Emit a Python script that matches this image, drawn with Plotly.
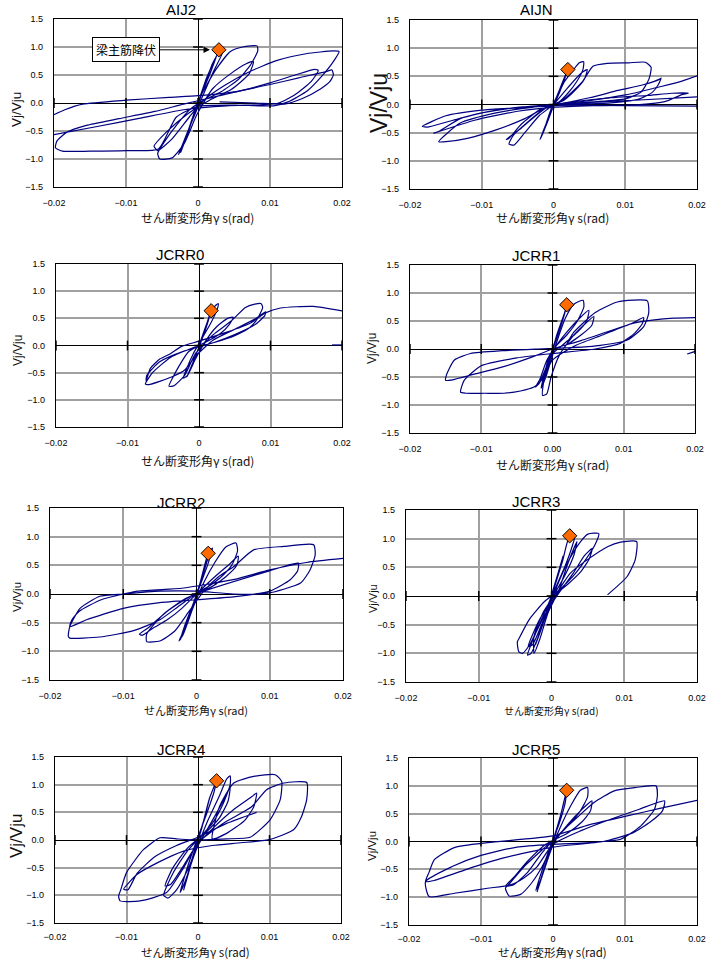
import plotly.graph_objects as go

# ---------------- data (shear strain gamma_s [rad], Vj/Vju) ----------------
x_ticks = [-0.02, -0.01, 0.0, 0.01, 0.02]
x_tick_text = ["−0.02", "−0.01", "0", "0.01", "0.02"]
x_tick_text_00 = ["−0.02", "−0.01", "0.00", "0.01", "0.02"]
y_ticks = [-1.5, -1.0, -0.5, 0.0, 0.5, 1.0, 1.5]
y_tick_text = ["−1.5", "−1.0", "−0.5", "0.0", "0.5", "1.0", "1.5"]

specimens = ["AIJ2", "AIJN", "JCRR0", "JCRR1", "JCRR2", "JCRR3", "JCRR4", "JCRR5"]

# beam main bar yield points (orange diamonds)
yield_gamma = [0.0029, 0.0020, 0.0017, 0.0020, 0.0016, 0.0025, 0.0026, 0.0019]
yield_ratio = [0.95, 0.62, 0.64, 0.79, 0.71, 1.05, 1.07, 0.92]

aij2_loop = [
    (0.0, 0.0), (0.0012, 0.45), (0.0026, 0.85), (0.0016, 0.5), (0.0, 0.02), (-0.0013, -0.5), (-0.0024, -0.88),
    (-0.0012, -0.45), (0.0004, 0.12), (0.002, 0.7), (0.0031, 0.94), (0.0036, 0.96), (0.0021, 0.55), (0.0004, 0.05),
    (-0.0014, -0.5), (-0.0027, -0.92), (-0.0016, -0.58), (0.0002, 0.08),
    (0.0025, 0.6), (0.0045, 0.92), (0.0062, 1.0), (0.0082, 1.02), (0.0083, 0.93), (0.0073, 0.68), (0.0056, 0.42),
    (0.0032, 0.2), (0.001, 0.06), (-0.001, -0.1), (-0.0029, -0.38), (-0.0046, -0.68), (-0.0056, -0.9), (-0.0053, -1.0),
    (-0.0036, -0.98), (-0.0019, -0.72), (-0.0002, -0.22), (0.002, 0.25), (0.0045, 0.52), (0.0067, 0.7), (0.0077, 0.74),
    (0.0071, 0.52), (0.0046, 0.24), (0.0016, 0.05), (-0.0015, -0.2), (-0.0044, -0.52), (-0.0061, -0.77),
    (-0.0056, -0.85), (-0.0036, -0.64), (-0.0012, -0.25), (0.0008, 0.05),
    (0.0035, 0.3), (0.007, 0.55), (0.011, 0.76), (0.015, 0.88), (0.0188, 0.93), (0.0196, 0.92), (0.0187, 0.72),
    (0.0172, 0.48), (0.0152, 0.22), (0.0125, 0.02), (0.0105, -0.05), (0.006, -0.04), (0.0, -0.06), (-0.003, -0.25),
    (-0.0055, -0.82), (-0.01, -0.85), (-0.015, -0.86), (-0.0188, -0.86), (-0.0198, -0.8), (-0.0196, -0.68),
    (-0.0182, -0.52), (-0.0155, -0.4), (-0.011, -0.28), (-0.006, -0.15), (-0.002, -0.02), (0.002, 0.1), (0.006, 0.22),
    (0.01, 0.36), (0.0135, 0.5), (0.0162, 0.6), (0.0167, 0.58), (0.0157, 0.38), (0.0135, 0.15), (0.0112, 0.0),
    (0.009, -0.03), (0.004, -0.05), (-0.002, -0.12), (-0.008, -0.27), (-0.014, -0.42), (-0.0207, -0.58),
    (None, None),
    (-0.0207, -0.25), (-0.0185, -0.12), (-0.016, -0.02), (-0.01, 0.05), (-0.004, 0.1), (0.0, 0.13), (0.005, 0.2),
    (0.01, 0.33), (0.014, 0.45), (0.0178, 0.56), (0.0186, 0.59), (0.0188, 0.5), (0.0183, 0.38), (0.017, 0.25),
    (0.0145, 0.08), (0.012, -0.02), (0.008, 0.0), (0.003, 0.02),
]

aijn_loop = [
    (0.0, 0.0), (0.0008, 0.25), (0.0017, 0.5), (0.0008, 0.2), (-0.0006, -0.2), (-0.0017, -0.58), (-0.0008, -0.3),
    (0.0005, 0.15), (0.0019, 0.6), (0.0012, 0.35), (-0.0004, -0.1), (-0.0015, -0.52), (-0.0019, -0.62),
    (-0.0009, -0.3), (0.0004, 0.1),
    (0.0015, 0.4), (0.0028, 0.62), (0.0036, 0.74), (0.0042, 0.76), (0.0041, 0.62), (0.0032, 0.4), (0.002, 0.2),
    (0.0008, 0.05), (-0.001, -0.05), (-0.0035, -0.3), (-0.0056, -0.55), (-0.0062, -0.7), (-0.0055, -0.72),
    (-0.004, -0.5), (-0.002, -0.2), (0.0, 0.0), (0.002, 0.3), (0.0038, 0.55), (0.0047, 0.62), (0.0043, 0.45),
    (0.003, 0.25), (0.0015, 0.08), (-0.0015, -0.1), (-0.0045, -0.42), (-0.0066, -0.62), (-0.0062, -0.6),
    (-0.0045, -0.35), (-0.002, -0.1), (0.001, 0.05),
    (0.004, 0.4), (0.0055, 0.68), (0.0075, 0.73), (0.0105, 0.74), (0.0128, 0.75), (0.0136, 0.66), (0.0133, 0.45),
    (0.0122, 0.22), (0.01, 0.1), (0.006, 0.05), (0.002, 0.02), (-0.004, -0.05), (-0.01, -0.1), (-0.015, -0.2),
    (-0.0183, -0.39), (-0.0175, -0.4), (-0.014, -0.28), (-0.01, -0.15), (-0.005, -0.05), (0.0, 0.0), (0.005, 0.12),
    (0.009, 0.25), (0.0125, 0.35), (0.0148, 0.45), (0.015, 0.47), (0.0146, 0.35), (0.0138, 0.22), (0.012, 0.1),
    (0.008, 0.03), (0.003, 0.0), (-0.003, -0.05), (-0.008, -0.15), (-0.013, -0.33), (-0.016, -0.66),
    (-0.015, -0.66), (-0.012, -0.6), (-0.008, -0.45), (-0.004, -0.25), (-0.001, -0.05), (0.003, 0.05),
    (0.008, 0.12), (0.013, 0.16), (0.0165, 0.2), (0.0188, 0.2), (0.018, 0.18), (0.0155, 0.05), (0.012, 0.0),
    (0.006, -0.02), (0.0, -0.05), (-0.005, -0.12), (-0.011, -0.28), (-0.0167, -0.51), (-0.016, -0.48),
    (-0.013, -0.25), (-0.008, -0.1), (-0.002, -0.02), (0.004, 0.03), (0.012, 0.08), (0.0207, 0.14),
    (None, None),
    (0.0, 0.0), (0.005, 0.07), (0.01, 0.17), (0.015, 0.32), (0.018, 0.42), (0.0207, 0.54),
    (None, None),
    (0.0, -0.01), (0.01, -0.02), (0.0207, -0.03),
]

jcrr0_loop = [
    (0.0, 0.0), (0.0008, 0.3), (0.0015, 0.55), (0.0008, 0.25), (-0.0005, -0.2), (-0.0017, -0.58), (-0.0008, -0.3),
    (0.0006, 0.2), (0.0017, 0.64), (0.0022, 0.72), (0.0027, 0.77), (0.0025, 0.65), (0.0016, 0.4), (0.0005, 0.15),
    (-0.0008, -0.15), (-0.0018, -0.45), (-0.0022, -0.6), (-0.0016, -0.55), (-0.0005, -0.25), (0.001, 0.1),
    (0.0025, 0.35), (0.004, 0.5), (0.0048, 0.52), (0.0042, 0.38), (0.003, 0.22), (0.0015, 0.1), (0.0, 0.0),
    (-0.0015, -0.12), (-0.0028, -0.38), (-0.0035, -0.55), (-0.0042, -0.75), (-0.0035, -0.74), (-0.002, -0.55),
    (-0.0005, -0.15), (0.002, 0.2), (0.0045, 0.45), (0.0065, 0.7), (0.0078, 0.76), (0.0087, 0.77), (0.0089, 0.7),
    (0.0082, 0.5), (0.007, 0.32), (0.005, 0.18), (0.002, 0.05), (-0.001, -0.05), (-0.004, -0.22), (-0.0065, -0.5),
    (-0.0075, -0.71), (-0.007, -0.72), (-0.0055, -0.66), (-0.0035, -0.56), (-0.002, -0.45), (-0.0005, -0.2),
    (0.002, 0.1), (0.005, 0.3), (0.008, 0.5), (0.0093, 0.62), (0.0092, 0.55), (0.0078, 0.38), (0.005, 0.2),
    (0.002, 0.05), (-0.002, -0.1), (-0.0055, -0.3), (-0.0073, -0.55), (-0.0074, -0.65), (-0.0068, -0.42),
    (-0.0055, -0.25), (-0.004, -0.15), (-0.0025, -0.02), (0.0, 0.08), (0.004, 0.25), (0.007, 0.4), (0.0093, 0.6),
    (0.0114, 0.69), (0.016, 0.72), (0.0207, 0.62),
    (None, None),
    (0.0186, 0.01), (0.0207, 0.01),
]

jcrr1_loop = [
    (0.0, 0.0), (0.0008, 0.3), (0.0016, 0.6), (0.0008, 0.3), (-0.0004, -0.15), (-0.0012, -0.55), (-0.0006, -0.3),
    (0.0006, 0.25), (0.0017, 0.65), (0.002, 0.78), (0.0014, 0.5), (0.0002, 0.05), (-0.001, -0.4), (-0.0016, -0.7),
    (-0.0008, -0.45), (0.0004, 0.05), (0.0018, 0.55), (0.003, 0.8), (0.0043, 0.87), (0.0044, 0.75), (0.0035, 0.5),
    (0.002, 0.25), (0.0005, 0.05), (-0.0008, -0.2), (-0.0018, -0.55), (-0.0024, -0.68), (-0.0018, -0.6),
    (-0.0008, -0.3), (0.0005, 0.05), (0.002, 0.3), (0.0038, 0.55), (0.0051, 0.69), (0.0048, 0.5), (0.0035, 0.3),
    (0.0015, 0.08), (-0.0005, -0.15), (-0.0012, -0.55), (-0.0014, -0.83), (-0.0008, -0.8), (-0.0002, -0.5),
    (0.001, -0.1), (0.003, 0.25), (0.0058, 0.58), (0.0055, 0.42), (0.004, 0.25), (0.002, 0.08),
    (0.003, 0.3), (0.006, 0.65), (0.0091, 0.84), (0.0133, 0.86), (0.0135, 0.64), (0.0128, 0.4), (0.0105, 0.16),
    (0.0058, 0.05), (0.002, 0.02), (-0.002, 0.0), (-0.007, -0.03), (-0.0115, -0.08), (-0.0138, -0.2),
    (-0.0149, -0.47), (-0.015, -0.56), (-0.014, -0.55), (-0.011, -0.45), (-0.007, -0.32), (-0.003, -0.15),
    (0.0, 0.0), (0.004, 0.15), (0.008, 0.32), (0.011, 0.45), (0.0128, 0.56), (0.0126, 0.45), (0.0115, 0.28),
    (0.0095, 0.1), (0.006, 0.0), (0.0, -0.08), (-0.005, -0.16), (-0.01, -0.3), (-0.0124, -0.56), (-0.0129, -0.77),
    (-0.0122, -0.79), (-0.0095, -0.79), (-0.0068, -0.79), (-0.0045, -0.75), (-0.0026, -0.68), (-0.0015, -0.55),
    (0.0, -0.2), (0.003, 0.05), (0.007, 0.25), (0.011, 0.45), (0.0143, 0.52), (0.017, 0.55), (0.0206, 0.56),
    (None, None),
    (0.0189, -0.09), (0.0206, -0.02),
]

jcrr2_loop = [
    (0.0, 0.0), (0.0008, 0.3), (0.0015, 0.6), (0.0009, 0.35), (-0.0004, -0.15), (-0.0016, -0.55), (-0.0022, -0.8),
    (-0.0012, -0.45), (0.0004, 0.15), (0.0016, 0.71), (0.0022, 0.8), (0.0015, 0.5), (0.0002, 0.05), (-0.0012, -0.5),
    (-0.0024, -0.82), (-0.0018, -0.7), (-0.0005, -0.25), (0.001, 0.2), (0.0025, 0.55), (0.004, 0.82), (0.0054, 0.89),
    (0.0056, 0.75), (0.0048, 0.5), (0.0032, 0.28), (0.0015, 0.12), (-0.001, -0.05), (-0.004, -0.3), (-0.0065, -0.58),
    (-0.0078, -0.7), (-0.0074, -0.72), (-0.006, -0.6), (-0.004, -0.45), (-0.002, -0.25), (0.0, 0.0), (0.0025, 0.3),
    (0.0045, 0.52), (0.0057, 0.66), (0.0055, 0.5), (0.004, 0.3), (0.002, 0.12), (-0.0015, -0.08), (-0.0045, -0.35),
    (-0.0068, -0.7), (-0.0068, -0.83), (-0.005, -0.82), (-0.003, -0.65), (-0.001, -0.3), (0.001, 0.05),
    (0.003, 0.3), (0.0051, 0.48), (0.0078, 0.77), (0.0119, 0.83), (0.016, 0.86), (0.0162, 0.68), (0.0155, 0.42),
    (0.0142, 0.19), (0.0096, 0.01), (0.005, 0.0), (0.0, 0.05), (-0.005, 0.05), (-0.01, 0.0), (-0.0132, -0.04),
    (-0.0159, -0.25), (-0.0173, -0.57), (-0.0175, -0.74), (-0.0173, -0.77), (-0.0132, -0.75), (-0.0086, -0.64),
    (-0.005, -0.45), (-0.0023, -0.2), (0.0, 0.0), (0.0096, 0.39), (0.0139, 0.54), (0.0138, 0.4), (0.0128, 0.25),
    (0.01, 0.05), (0.005, -0.05), (0.0, -0.1), (-0.005, -0.15), (-0.01, -0.25), (-0.015, -0.45), (-0.0173, -0.57),
    (-0.017, -0.45), (-0.016, -0.3), (-0.013, -0.1), (-0.008, 0.05), (-0.002, 0.1), (0.005, 0.25), (0.01, 0.42),
    (0.015, 0.55), (0.0208, 0.63),
]

jcrr3_loop = [
    (0.0, 0.0), (0.0008, 0.35), (0.0016, 0.7), (0.0009, 0.4), (-0.0004, -0.15), (-0.0014, -0.55), (-0.0022, -0.85),
    (-0.0012, -0.5), (0.0004, 0.15), (0.0015, 0.6), (0.0025, 1.05), (0.0032, 1.05), (0.0028, 0.85), (0.0018, 0.5),
    (0.0004, 0.1), (-0.001, -0.3), (-0.0025, -0.75), (-0.0033, -1.03), (-0.0028, -1.0), (-0.0018, -0.7),
    (-0.0005, -0.25), (0.001, 0.25), (0.0025, 0.65), (0.004, 0.95), (0.005, 1.08), (0.0065, 1.09), (0.006, 0.9),
    (0.0045, 0.6), (0.003, 0.35), (0.0012, 0.12), (-0.001, -0.1), (-0.003, -0.4), (-0.0045, -0.75), (-0.0047, -0.8),
    (-0.0045, -0.97), (-0.004, -1.0), (-0.003, -0.85), (-0.002, -0.6), (-0.0008, -0.3), (0.001, 0.05), (0.003, 0.4),
    (0.0045, 0.7), (0.0056, 0.83), (0.0052, 0.65), (0.004, 0.42), (0.0022, 0.2), (0.0005, 0.02), (-0.0012, -0.3),
    (-0.0024, -0.7), (-0.0024, -1.0), (-0.0016, -0.75), (-0.0005, -0.3), (0.001, 0.1), (0.0022, 0.55),
    (0.0035, 0.95), (0.0031, 0.72), (0.0018, 0.35), (0.0, -0.05), (-0.0018, -0.45), (-0.0032, -0.88),
    (-0.0026, -0.85), (-0.0012, -0.45), (0.0005, 0.0), (0.0026, 0.4),
    (0.0049, 0.63), (0.0077, 0.86), (0.0095, 0.94), (0.0117, 0.95), (0.0115, 0.63), (0.0104, 0.34), (0.0077, 0.02),
]

jcrr4_loop = [
    (0.0, 0.0), (0.0008, 0.35), (0.0016, 0.75), (0.0009, 0.4), (-0.0004, -0.15), (-0.0013, -0.55), (-0.002, -0.9),
    (-0.001, -0.45), (0.0005, 0.2), (0.0016, 0.75), (0.0026, 1.07), (0.0022, 0.85), (0.001, 0.4), (-0.0003, -0.05),
    (-0.0015, -0.5), (-0.0025, -0.95), (-0.0018, -0.75), (-0.0006, -0.3), (0.0012, 0.3), (0.003, 0.8), (0.004, 1.1),
    (0.0045, 1.16), (0.0045, 1.0), (0.0035, 0.65), (0.002, 0.3), (0.0005, 0.08), (-0.0015, -0.2), (-0.0035, -0.6),
    (-0.0048, -1.0), (-0.0042, -1.05), (-0.003, -0.9), (-0.0015, -0.55), (0.0, -0.1), (0.002, 0.35), (0.0035, 0.7),
    (0.0045, 0.95), (0.0042, 0.7), (0.003, 0.4), (0.0012, 0.15), (-0.0015, -0.15), (-0.0035, -0.5),
    (-0.0046, -0.83), (-0.0038, -0.8), (-0.0022, -0.5), (-0.0005, -0.15), (0.002, 0.2), (0.005, 0.55),
    (0.0075, 0.78), (0.0082, 0.85), (0.0078, 0.6), (0.0065, 0.35), (0.004, 0.12), (0.002, 0.02),
    (0.003, 0.6), (0.005, 1.03), (0.0078, 1.15), (0.0108, 1.18), (0.0117, 1.06), (0.0115, 0.73), (0.0101, 0.37),
    (0.0073, 0.05), (0.004, 0.02), (0.0, 0.0), (-0.003, 0.02), (-0.0053, 0.04), (-0.0076, -0.17), (-0.01, -0.59),
    (-0.0108, -0.9), (-0.0111, -1.01), (-0.0109, -1.1), (-0.0081, -1.1), (-0.0044, -0.95), (-0.002, -0.5),
    (0.0, -0.05), (0.0035, 0.3), (0.0075, 0.6), (0.0096, 0.91), (0.012, 1.03), (0.0152, 1.04), (0.0152, 0.73),
    (0.0145, 0.43), (0.0134, 0.19), (0.0101, 0.01), (0.006, -0.05), (0.002, -0.1), (-0.002, -0.2),
    (-0.0055, -0.4), (-0.0085, -0.62), (-0.0104, -0.89), (-0.0098, -0.9), (-0.0085, -0.6), (-0.006, -0.3),
    (-0.003, -0.1), (0.0, 0.05), (0.004, 0.3), (0.0082, 0.5),
]

jcrr5_loop = [
    (0.0, 0.0), (0.0008, 0.35), (0.0015, 0.7), (0.0009, 0.4), (-0.0004, -0.15), (-0.0014, -0.55), (-0.0022, -0.9),
    (-0.0012, -0.5), (0.0004, 0.15), (0.0013, 0.6), (0.0019, 0.92), (0.0017, 0.7), (0.0008, 0.3), (-0.0004, -0.1),
    (-0.0016, -0.55), (-0.0024, -0.88), (-0.0016, -0.65), (-0.0004, -0.2), (0.001, 0.25), (0.0025, 0.65),
    (0.0038, 0.92), (0.0048, 0.97), (0.0048, 0.8), (0.0038, 0.55), (0.0022, 0.3), (0.0005, 0.08), (-0.0015, -0.15),
    (-0.004, -0.45), (-0.006, -0.75), (-0.0066, -0.84), (-0.0061, -0.98), (-0.0045, -0.95), (-0.003, -0.75),
    (-0.0015, -0.45), (0.0, -0.05), (0.002, 0.3), (0.0042, 0.6), (0.0054, 0.73), (0.0052, 0.55), (0.004, 0.35),
    (0.002, 0.15), (-0.001, -0.05), (-0.0035, -0.35), (-0.0055, -0.65), (-0.0066, -0.8), (-0.0055, -0.78),
    (-0.0035, -0.55), (-0.0015, -0.2), (0.001, 0.15), (0.0035, 0.45), (0.0057, 0.7), (0.0085, 0.91), (0.0115, 0.97),
    (0.0143, 1.0), (0.0145, 0.82), (0.0141, 0.58), (0.0122, 0.28), (0.0094, 0.04), (0.005, -0.02), (0.0, -0.05),
    (-0.005, -0.1), (-0.01, -0.25), (-0.014, -0.45), (-0.0177, -0.72), (-0.0172, -0.99), (-0.0137, -0.93),
    (-0.0091, -0.84), (-0.0059, -0.78), (-0.004, -0.65), (-0.0022, -0.45), (0.0, -0.05), (0.004, 0.2), (0.008, 0.4),
    (0.012, 0.58), (0.0155, 0.73), (0.0152, 0.55), (0.0135, 0.35), (0.011, 0.15), (0.007, 0.0), (0.0, -0.1),
    (-0.007, -0.3), (-0.012, -0.5), (-0.0165, -0.7), (-0.0177, -0.72), (-0.0172, -0.55), (-0.0165, -0.33),
    (-0.0137, -0.11), (-0.0091, -0.02), (0.0, 0.1), (0.005, 0.3), (0.01, 0.45), (0.015, 0.6), (0.0208, 0.76),
]

loops = [aij2_loop, aijn_loop, jcrr0_loop, jcrr1_loop, jcrr2_loop, jcrr3_loop, jcrr4_loop, jcrr5_loop]

x_title = "せん断変形角γ s(rad)"
y_title = "Vj/Vju"
yield_label = "梁主筋降伏"

# ---------------- layout (pixel geometry of each panel) ----------------
W, H = 709, 959
panel_style = [
    dict(box=(54, 342, 19, 187), title=(181, 10), xt=(197, 218, 12), yt=(17, 110, 13.5), xtext=x_tick_text),
    dict(box=(410, 697, 20, 189), title=(536, 10), xt=(552, 218, 12), yt=(379, 103, 23), xtext=x_tick_text),
    dict(box=(56, 342, 264, 427), title=(180, 254), xt=(197, 460, 12), yt=(18, 351, 12), xtext=x_tick_text),
    dict(box=(410, 695, 265, 433), title=(536, 255), xt=(552, 464, 12), yt=(372, 349, 12), xtext=x_tick_text_00),
    dict(box=(50, 343, 508, 680), title=(181, 502), xt=(196, 710, 11), yt=(17, 597, 11.5), xtext=x_tick_text),
    dict(box=(406, 697, 510, 682), title=(536, 501), xt=(551, 710, 10), yt=(373, 598, 11), xtext=x_tick_text),
    dict(box=(55, 341, 757, 923), title=(181, 749), xt=(195, 951.5, 11.5), yt=(16, 836, 17), xtext=x_tick_text),
    dict(box=(409, 697, 758, 925), title=(536, 749), xt=(552, 952, 11.5), yt=(372, 846, 11.5), xtext=x_tick_text),
]

LINE = "#000080"
fig = go.Figure()
annotations = []
layout_axes = {}

for i, (name, loop, st) in enumerate(zip(specimens, loops, panel_style)):
    n = i + 1
    xa = "x" if n == 1 else f"x{n}"
    ya = "y" if n == 1 else f"y{n}"
    xs = [p[0] for p in loop]
    ys = [p[1] for p in loop]
    fig.add_trace(go.Scatter(x=xs, y=ys, mode="lines", xaxis=xa, yaxis=ya,
                             line=dict(color=LINE, width=1.2, shape="spline", smoothing=0.55),
                             connectgaps=False, showlegend=False, hoverinfo="skip"))
    # cross tick marks on the zero axes (Excel style)
    fig.add_trace(go.Scatter(x=[0.0] * len(y_ticks), y=y_ticks, mode="markers", xaxis=xa, yaxis=ya,
                             marker=dict(symbol="line-ew", size=7, line=dict(color="black", width=1.5)),
                             showlegend=False, hoverinfo="skip"))
    fig.add_trace(go.Scatter(x=x_ticks, y=[0.0] * len(x_ticks), mode="markers", xaxis=xa, yaxis=ya,
                             marker=dict(symbol="line-ns", size=7, line=dict(color="black", width=1.5)),
                             showlegend=False, hoverinfo="skip"))
    # yield point
    fig.add_trace(go.Scatter(x=[yield_gamma[i]], y=[yield_ratio[i]], mode="markers", xaxis=xa, yaxis=ya,
                             marker=dict(symbol="diamond", size=11, color="#FF6A00",
                                         line=dict(color="black", width=1)),
                             showlegend=False, hoverinfo="skip"))

    x0, x1, y0, y1 = st["box"]
    axis_common = dict(showgrid=True, gridcolor="#a0a0a0", gridwidth=1.6,
                       zeroline=True, zerolinecolor="black", zerolinewidth=1.4,
                       showline=True, linecolor="black", linewidth=1.4, mirror=True,
                       automargin=False,
                       ticks="", tickfont=dict(family="Liberation Sans, Arial, sans-serif", size=9, color="black"),
                       fixedrange=True)
    x_standoff = 5 if n >= 7 else 7
    layout_axes["xaxis" if n == 1 else f"xaxis{n}"] = dict(
        axis_common, domain=[x0 / W, x1 / W], anchor=ya, range=[-0.02, 0.02],
        tickvals=x_ticks, ticktext=st["xtext"], ticklabelstandoff=x_standoff)
    layout_axes["yaxis" if n == 1 else f"yaxis{n}"] = dict(
        axis_common, domain=[1 - y1 / H, 1 - y0 / H], anchor=xa, range=[-1.5, 1.5],
        tickvals=y_ticks, ticktext=y_tick_text, ticklabelstandoff=8)

    tx, ty = st["title"]
    annotations.append(dict(text=name, x=tx / W, y=1 - ty / H, xref="paper", yref="paper",
                            xanchor="center", yanchor="middle", showarrow=False,
                            font=dict(family="Liberation Sans, Arial, sans-serif", size=15, color="black")))
    xx, xy, xs_ = st["xt"]
    annotations.append(dict(text=x_title, x=xx / W, y=1 - xy / H, xref="paper", yref="paper",
                            xanchor="center", yanchor="middle", showarrow=False,
                            font=dict(family="Noto Sans CJK JP, sans-serif", size=xs_, color="#111111")))
    yx, yy, ys_ = st["yt"]
    annotations.append(dict(text=y_title, x=yx / W, y=1 - yy / H, xref="paper", yref="paper",
                            xanchor="center", yanchor="middle", showarrow=False, textangle=-90,
                            font=dict(family="Liberation Sans, Arial, sans-serif", size=ys_, color="#111111")))

# callout on AIJ2
annotations.append(dict(text=yield_label, x=0.00167, y=0.95, xref="x", yref="y",
                        ax=-84, ay=0, axref="pixel", ayref="pixel",
                        showarrow=True, arrowhead=2, arrowsize=1.3, arrowwidth=1, arrowcolor="black",
                        bordercolor="black", borderwidth=1, borderpad=3, bgcolor="white",
                        font=dict(family="Noto Sans CJK JP, sans-serif", size=12, color="black")))

fig.update_layout(width=W, height=H, margin=dict(l=0, r=0, t=0, b=0, autoexpand=False),
                  paper_bgcolor="white", plot_bgcolor="white",
                  annotations=annotations, **layout_axes)

fig.write_html("out.html", config={"displayModeBar": False},
               post_script="document.body.style.margin='0px';")
